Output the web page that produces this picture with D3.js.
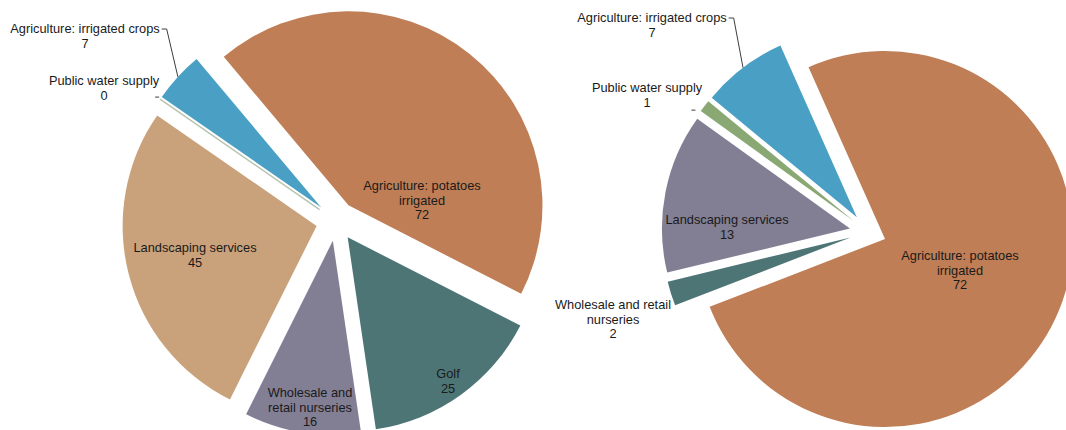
<!DOCTYPE html>
<html>
<head>
<meta charset="utf-8">
<script src="https://cdn.jsdelivr.net/npm/d3@7"></script>
<style>
  html, body { margin: 0; padding: 0; background: #ffffff; }
  svg { display: block; }
  text { font-family: "Liberation Sans", Arial, sans-serif; font-size: 12.8px; fill: #1a1a1a; }
</style>
</head>
<body>
<svg id="chart" width="1066" height="430"></svg>
<script>
// Categories in slice order (clockwise from the first slice)
const leftCategories = ["Agriculture: potatoes irrigated", "Golf", "Wholesale and retail nurseries",
  "Landscaping services", "Public water supply", "Agriculture: irrigated crops"];
const leftValues = [72, 25, 16, 45, 0, 7];
const leftColors = ["#bf7e55", "#4e7576", "#827f94", "#c9a27b", "#8aa874", "#4a9fc4"];

const rightCategories = ["Agriculture: potatoes irrigated", "Wholesale and retail nurseries",
  "Landscaping services", "Public water supply", "Agriculture: irrigated crops"];
const rightValues = [72, 2, 13, 1, 7];
const rightColors = ["#bf7e55", "#4e7576", "#827f94", "#8aa874", "#4a9fc4"];

// Label line breaks per pie
const leftLabelLines = {
  "Agriculture: potatoes irrigated": ["Agriculture: potatoes", "irrigated"],
  "Golf": ["Golf"],
  "Wholesale and retail nurseries": ["Wholesale and", "retail nurseries"],
  "Landscaping services": ["Landscaping services"],
  "Public water supply": ["Public water supply"],
  "Agriculture: irrigated crops": ["Agriculture: irrigated crops"]
};
const rightLabelLines = {
  "Agriculture: potatoes irrigated": ["Agriculture: potatoes", "irrigated"],
  "Wholesale and retail nurseries": ["Wholesale and retail", "nurseries"],
  "Landscaping services": ["Landscaping services"],
  "Public water supply": ["Public water supply"],
  "Agriculture: irrigated crops": ["Agriculture: irrigated crops"]
};

const svg = d3.select("#chart");
const deg = Math.PI / 180;

function drawPie(cfg) {
  const g = svg.append("g").attr("transform", `translate(${cfg.cx},${cfg.cy})`);
  const data = cfg.categories.map((c, i) => ({ name: c, value: cfg.values[i], color: cfg.colors[i] }));
  const pie = d3.pie().sort(null).value(d => d.value)
    .startAngle(cfg.start * deg).endAngle(cfg.start * deg + 2 * Math.PI);
  const arcs = pie(data);
  const arc = d3.arc().innerRadius(0).outerRadius(cfg.r);

  const off = a => {
    const m = (a.startAngle + a.endAngle) / 2;
    return [Math.sin(m) * cfg.explode, -Math.cos(m) * cfg.explode];
  };

  g.selectAll("path.slice").data(arcs).enter().append("path")
    .attr("class", "slice")
    .attr("d", arc)
    .attr("transform", a => `translate(${off(a)})`)
    .attr("fill", a => a.data.color)
    .attr("stroke", a => a.data.value === 0 ? "#b7c4b0" : "none")
    .attr("stroke-width", a => a.data.value === 0 ? 1.5 : 0);

  const lineH = 14.5;
  arcs.forEach(a => {
    const lay = cfg.layout[a.data.name];
    const lines = cfg.labelLines[a.data.name].concat([String(a.data.value)]);
    const t = g.append("text").attr("text-anchor", "middle")
      .attr("dominant-baseline", "central");
    lines.forEach((s, i) => {
      t.append("tspan").attr("x", lay[0]).attr("y", lay[1] + i * lineH).text(s);
    });
    const m = (a.startAngle + a.endAngle) / 2;
    const [ox, oy] = off(a);
    const edge = [ox + Math.sin(m) * cfg.r, oy - Math.cos(m) * cfg.r];
    if (lay.leader) {
      // elbow leader from the end of the first label line to the slice's outer edge
      const w = t.select("tspan").node().getComputedTextLength();
      const x0 = lay[0] + w / 2 + 2, y0 = lay[1] + 1;
      g.append("path")
        .attr("d", `M${x0},${y0}H${x0 + 5}L${edge[0]},${edge[1]}`)
        .attr("fill", "none").attr("stroke", "#3c3c3c").attr("stroke-width", 1);
    }
    if (lay.dash) {
      const dx = edge[0] + lay.dash[0], dy = edge[1] + lay.dash[1];
      g.append("line").attr("x1", dx - 2).attr("x2", dx + 2).attr("y1", dy).attr("y2", dy)
        .attr("stroke", "#3c3c3c").attr("stroke-width", 1);
    }
  });
}

drawPie({
  cx: 336, cy: 221, r: 194, explode: 20, start: -40,
  categories: leftCategories, values: leftValues, colors: leftColors, labelLines: leftLabelLines,
  layout: {
    "Agriculture: potatoes irrigated": [86, -36],
    "Golf": [112, 152],
    "Wholesale and retail nurseries": [-26, 171],
    "Landscaping services": [-141, 26],
    "Public water supply": Object.assign([-232, -141], { dash: [-3, -2] }),
    "Agriculture: irrigated crops": Object.assign([-251, -193], { leader: true })
  }
});

drawPie({
  cx: 868, cy: 232, r: 188, explode: 18.4, start: -24,
  categories: rightCategories, values: rightValues, colors: rightColors, labelLines: rightLabelLines,
  layout: {
    "Agriculture: potatoes irrigated": [92, 23],
    "Wholesale and retail nurseries": [-255, 72],
    "Landscaping services": [-141, -13],
    "Public water supply": Object.assign([-221, -145], { dash: [-11, 4] }),
    "Agriculture: irrigated crops": Object.assign([-216, -215], { leader: true })
  }
});
</script>
</body>
</html>
